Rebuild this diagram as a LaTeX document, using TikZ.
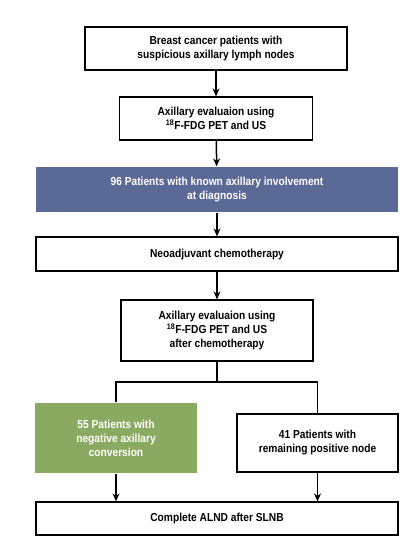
\documentclass[tikz,border=0pt]{standalone}
\usepackage{fontspec}
\setmainfont{Liberation Sans}[FakeStretch=0.88]
\usetikzlibrary{graphs}
\usetikzlibrary{arrows.meta}
\definecolor{dxblue}{RGB}{91,105,150}
\definecolor{convgreen}{RGB}{139,170,97}
\tikzset{
  box/.style= {draw, line width=1.2pt, align=center, inner sep=2,
    font=\fontsize{11.6}{14}\selectfont\bfseries},
  hi/.style= {draw=none, fill=dxblue, text=white},
  conv/.style= {draw=none, fill=convgreen, text=white},
}

\begin{document}
\begin{tikzpicture}[x=1pt, y=-1pt, >={Stealth[length=8pt,width=7pt]}, line width=1.5pt]
  \useasboundingbox (0,0) rectangle (416,549);
  \node [box, minimum width=262, minimum height=43] (a) at (216,48.5) {Breast cancer patients with\\suspicious axillary lymph nodes} ;
  \node [box, minimum width=193, minimum height=43] (b) at (216,118.5) {Axillary evaluaion using\\\textsuperscript{18}F-FDG PET and US} ;
  \node [box, hi, minimum width=362, minimum height=45] (c) at (217,189.5) {96 Patients with known axillary involvement\\at diagnosis} ;
  \node [box, minimum width=362, minimum height=34] (d) at (217,254) {Neoadjuvant chemotherapy} ;
  \node [box, minimum width=192, minimum height=61] (e) at (217,330.5) {Axillary evaluaion using\\\textsuperscript{18}F-FDG PET and US\\after chemotherapy} ;
  \node [box, conv, minimum width=162, minimum height=70] (f) at (116,438) {55 Patients with\\negative axillary\\conversion} ;
  \node [box, minimum width=161, minimum height=58] (g) at (317.5,443) {41 Patients with\\remaining positive node} ;
  \node [box, minimum width=362, minimum height=33] (h) at (217,518.5) {Complete ALND after SLNB} ;
  \coordinate (split) at (217,382) ;

  \graph {
    (a) -> (b) -> (c) -> (d) -> (e) ;
  } ;
  \draw (e) -- (split) ;
  \draw (f.north) |- (split) -| (g.north) ;
  \draw [->] (f) -- (f |- h.north) ;
  \draw [->] (g) -- (g |- h.north) ;
\end{tikzpicture}
\end{document}
